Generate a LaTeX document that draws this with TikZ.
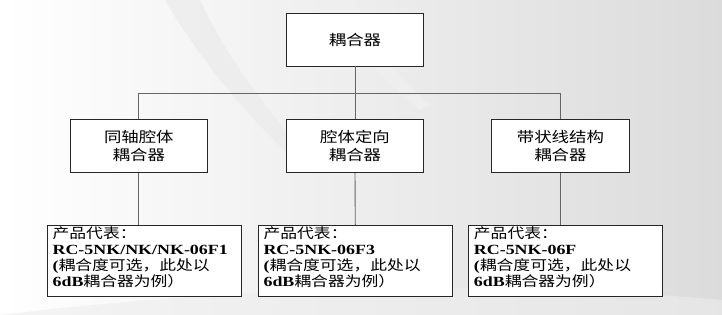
\documentclass[tikz,border=0pt]{standalone}
\usepackage{fontspec}
\setmainfont{Liberation Serif}[FakeStretch=1.28]
\newfontfamily\cjk{Noto Sans CJK SC}[FakeStretch=1.2]
\begin{document}
\begin{tikzpicture}[x=1pt,y=-1pt,
  box/.style={draw=black!85,line width=0.9pt,fill=white,inner sep=0pt,align=center},
  conn/.style={draw=black!60,line width=0.9pt},
  midtext/.style={font=\cjk\fontsize{14.5}{17.7}\selectfont},
  lowtext/.style={anchor=north west,inner sep=0pt,align=left,font=\fontsize{14}{16}\selectfont}
]
\useasboundingbox (0,0) rectangle (722,315);
\shade[left color=white,right color=black!14] (0,0) rectangle (722,315);
\fill[black!8,opacity=0.7] (165,0) .. controls (200,60) and (250,120) .. (300,165) -- (315,165) .. controls (270,115) and (225,55) .. (200,0) -- cycle;
\fill[black!6,opacity=0.7] (330,0) .. controls (350,40) and (380,80) .. (420,110) -- (430,105) .. controls (395,75) and (370,40) .. (355,0) -- cycle;
\fill[black!7,opacity=0.6] (0,315) .. controls (250,285) and (500,280) .. (722,300) -- (722,315) -- cycle;

% nodes
\node[box,midtext,minimum width=136.6pt,minimum height=52.7pt] (top) at (355,39.7) {耦合器};
\node[box,midtext,minimum width=136.3pt,minimum height=53.4pt] (m1) at (138.8,146) {同轴腔体\\耦合器};
\node[box,midtext,minimum width=136.6pt,minimum height=53.4pt] (m2) at (355,146) {腔体定向\\耦合器};
\node[box,midtext,minimum width=137.3pt,minimum height=53.4pt] (m3) at (560.4,146) {带状线结构\\耦合器};

\node[box,minimum width=193.7pt,minimum height=71pt] (b1) at (144.2,261.2) {};
\node[box,minimum width=194pt,minimum height=71pt] (b2) at (355.3,261.2) {};
\node[box,minimum width=193.3pt,minimum height=71pt] (b3) at (565.3,261.2) {};

\node[lowtext] (t1) at ([xshift=5.5pt,yshift=-1.5pt]b1.north west) {{\cjk 产品代表：}\\\textbf{RC-5NK/NK/NK-06F1}\\\textbf{(}{\cjk 耦合度可选，此处以}\\\textbf{6dB}{\cjk 耦合器为例）}};
\node[lowtext] (t2) at ([xshift=5.5pt,yshift=-1.5pt]b2.north west) {{\cjk 产品代表：}\\\textbf{RC-5NK-06F3}\\\textbf{(}{\cjk 耦合度可选，此处以}\\\textbf{6dB}{\cjk 耦合器为例）}};
\node[lowtext] (t3) at ([xshift=5.5pt,yshift=-1.5pt]b3.north west) {{\cjk 产品代表：}\\\textbf{RC-5NK-06F}\\\textbf{(}{\cjk 耦合度可选，此处以}\\\textbf{6dB}{\cjk 耦合器为例）}};

% connectors
\coordinate (busL) at (m1.north |- 0,93.3);
\coordinate (busR) at (m3.north |- 0,93.3);
\draw[conn] (top.south) -- (m2.north);
\draw[conn] (busL) -- (busR);
\draw[conn] (busL) -- (m1.north);
\draw[conn] (busR) -- (m3.north);
\draw[conn] (m1.south) -- (m1.south |- b1.north);
\draw[conn] (m2.south) -- (b2.north);
\draw[conn] (m3.south) -- (m3.south |- b3.north);
\end{tikzpicture}
\end{document}
